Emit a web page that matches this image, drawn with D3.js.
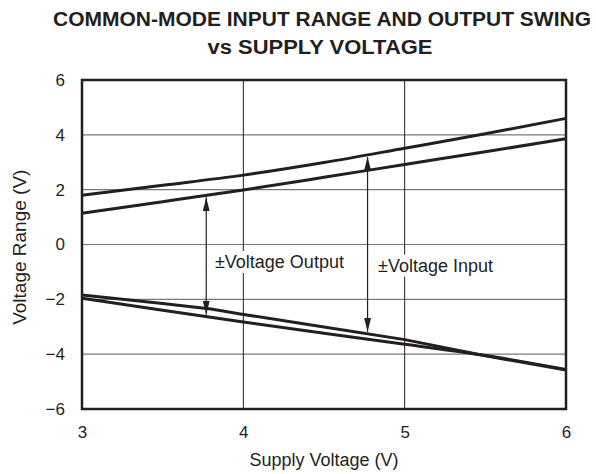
<!DOCTYPE html>
<html>
<head>
<meta charset="utf-8">
<script src="https://cdn.jsdelivr.net/npm/d3@7"></script>
<style>
  body { margin: 0; background: #fff; }
  text { font-family: "Liberation Sans", Arial, Helvetica, sans-serif; fill: #231f20; }
</style>
</head>
<body>
<div id="chart"></div>
<script>
// supply voltage samples (V)
var supply = [3, 3.5, 4, 4.5, 5, 5.5, 6];
var inputHigh = [1.80, 2.16, 2.53, 2.99, 3.51, 4.04, 4.60];
var outputHigh = [1.14, 1.56, 1.99, 2.45, 2.92, 3.38, 3.86];
var outputLow = [-1.96, -2.40, -2.83, -3.24, -3.64, -4.05, -4.56];
// the negative input limit has a kink near 3.8 V
var supplyIn = [3, 3.5, 3.8, 4, 4.5, 5, 5.5, 6];
var inputLow = [-1.84, -2.15, -2.35, -2.55, -3.01, -3.47, -4.06, -4.58];

var xTicks = [3, 4, 5, 6];
var yTicks = [-6, -4, -2, 0, 2, 4, 6];

var width = 596, height = 474;
var margin = {top: 80, right: 30, bottom: 65, left: 82};

var svg = d3.select("#chart").append("svg")
  .attr("width", width)
  .attr("height", height);

var x = d3.scaleLinear().domain([3, 6]).range([margin.left, width - margin.right]);
var y = d3.scaleLinear().domain([-6, 6]).range([height - margin.bottom, margin.top]);

// gridlines
svg.append("g").selectAll("line")
  .data(yTicks.slice(1, -1))
  .join("line")
    .attr("x1", x(3)).attr("x2", x(6))
    .attr("y1", d => y(d)).attr("y2", d => y(d))
    .attr("stroke", "#7a7a7a")
    .attr("stroke-width", 1.2);
svg.append("g").selectAll("line")
  .data(xTicks.slice(1, -1))
  .join("line")
    .attr("x1", d => x(d)).attr("x2", d => x(d))
    .attr("y1", y(6)).attr("y2", y(-6))
    .attr("stroke", "#231f20")
    .attr("stroke-width", 1);

// label backgrounds + labels
var labels = [
  {text: "\u00b1Voltage Output", v: 3.824, r: -0.857},
  {text: "\u00b1Voltage Input", v: 4.835, r: -0.99}
];
var lab = svg.append("g").selectAll("g")
  .data(labels)
  .join("g");
lab.append("text")
  .attr("x", d => x(d.v))
  .attr("y", d => y(d.r))
  .style("font-size", "18px")
  .text(d => d.text);
lab.each(function() {
  var g = d3.select(this);
  var bb = g.select("text").node().getBBox();
  g.insert("rect", "text")
    .attr("x", bb.x - 3).attr("y", bb.y - 1)
    .attr("width", bb.width + 6).attr("height", bb.height + 2)
    .attr("fill", "#fff");
});

// curves
var line = d3.line()
  .x(d => x(d[0]))
  .y(d => y(d[1]))
  .curve(d3.curveMonotoneX);
var lineLin = d3.line()
  .x(d => x(d[0]))
  .y(d => y(d[1]));

var series = [
  {pts: d3.zip(supply, inputHigh), gen: line},
  {pts: d3.zip(supply, outputHigh), gen: line},
  {pts: d3.zip(supply, outputLow), gen: line},
  {pts: d3.zip(supplyIn, inputLow), gen: lineLin}
];
svg.append("g").selectAll("path")
  .data(series)
  .join("path")
    .attr("d", d => d.gen(d.pts))
    .attr("fill", "none")
    .attr("stroke", "#231f20")
    .attr("stroke-width", 3)
    .attr("stroke-linejoin", "round");

// double headed arrows between the limits
function valueAt(xs, ys, v) {
  return d3.scaleLinear().domain(xs).range(ys)(v);
}
var arrows = [
  {v: 3.77, top: valueAt(supply, outputHigh, 3.77), bot: valueAt(supply, outputLow, 3.77)},
  {v: 4.77, top: valueAt(supply, inputHigh, 4.77), bot: valueAt(supplyIn, inputLow, 4.77)}
];
svg.append("defs").append("marker")
  .attr("id", "head")
  .attr("viewBox", "0 0 14 7")
  .attr("refX", 14).attr("refY", 3.5)
  .attr("markerWidth", 14).attr("markerHeight", 7)
  .attr("markerUnits", "userSpaceOnUse")
  .attr("orient", "auto-start-reverse")
  .append("path")
    .attr("d", "M0,0L14,3.5L0,7Z")
    .attr("fill", "#231f20");
svg.append("g").selectAll("line")
  .data(arrows)
  .join("line")
    .attr("x1", d => x(d.v)).attr("x2", d => x(d.v))
    .attr("y1", d => y(d.top) + 2).attr("y2", d => y(d.bot) - 2)
    .attr("stroke", "#231f20")
    .attr("stroke-width", 1.2)
    .attr("marker-start", "url(#head)")
    .attr("marker-end", "url(#head)");

// frame
svg.append("rect")
  .attr("x", x(3)).attr("y", y(6))
  .attr("width", x(6) - x(3)).attr("height", y(-6) - y(6))
  .attr("fill", "none")
  .attr("stroke", "#231f20")
  .attr("stroke-width", 2.5);

// axes
var xAxis = svg.append("g")
  .attr("transform", "translate(0," + y(-6) + ")")
  .call(d3.axisBottom(x).tickValues(xTicks).tickSize(0).tickPadding(17).tickFormat(d3.format("d")));
var yAxis = svg.append("g")
  .attr("transform", "translate(" + x(3) + ",0)")
  .call(d3.axisLeft(y).tickValues(yTicks).tickSize(0).tickPadding(17).tickFormat(d3.format("d")));
svg.selectAll(".domain").remove();
svg.selectAll(".tick text")
  .style("font-size", "17px")
  .attr("fill", "#231f20")
  .style("font-family", "'Liberation Sans', Arial, Helvetica, sans-serif");

// axis titles
svg.append("text")
  .attr("x", (x(3) + x(6)) / 2)
  .attr("y", 466)
  .attr("text-anchor", "middle")
  .style("font-size", "18px")
  .text("Supply Voltage (V)");
svg.append("text")
  .attr("transform", "translate(26," + y(-0.1) + ") rotate(-90)")
  .attr("text-anchor", "middle")
  .style("font-size", "19px")
  .text("Voltage Range (V)");

// chart title
svg.append("text")
  .attr("x", 322)
  .attr("y", 26)
  .attr("text-anchor", "middle")
  .attr("textLength", 538)
  .attr("lengthAdjust", "spacingAndGlyphs")
  .style("font-size", "20px")
  .style("font-weight", "bold")
  .text("COMMON-MODE INPUT RANGE AND OUTPUT SWING");
svg.append("text")
  .attr("x", 320)
  .attr("y", 54)
  .attr("text-anchor", "middle")
  .attr("textLength", 225)
  .attr("lengthAdjust", "spacingAndGlyphs")
  .style("font-size", "20px")
  .style("font-weight", "bold")
  .text("vs SUPPLY VOLTAGE");
</script>
</body>
</html>
